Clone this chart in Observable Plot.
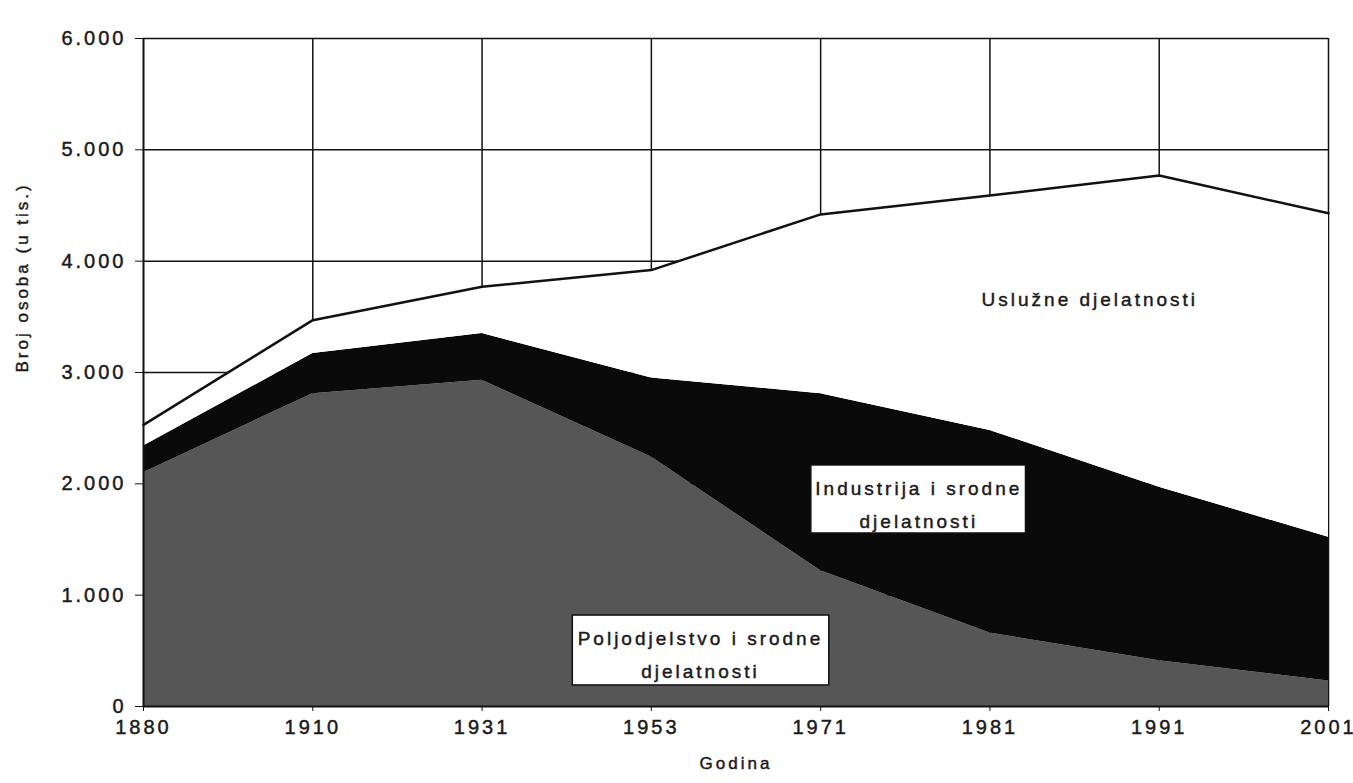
<!DOCTYPE html>
<html>
<head>
<meta charset="utf-8">
<script src="https://cdn.jsdelivr.net/npm/d3@7"></script>
<script src="https://cdn.jsdelivr.net/npm/@observablehq/plot@0.6"></script>
<style>
  html, body { margin: 0; padding: 0; background: #ffffff; }
  #chart { width: 1353px; height: 783px; overflow: hidden; }
  #chart svg text { stroke: #1a1a1a; stroke-width: 0.45px; }
  #chart g[aria-label="y-title"] text { letter-spacing: 2.3px; }
  #chart g[aria-label="x-title"] text { letter-spacing: 1px; }
  #chart g[aria-label="annotations"] text { letter-spacing: 3px; }
</style>
</head>
<body>
<div id="chart"></div>
<script>
// Category labels (equally spaced census years)
const years = ["1880", "1910", "1931", "1953", "1971", "1981", "1991", "2001"];

// Series values (thousands of persons)
const agriculture = [2100, 2810, 2930, 2240, 1220, 660, 410, 230];
const industry    = [240, 360, 420, 710, 1590, 1820, 1560, 1290];
const services    = [190, 300, 420, 970, 1610, 2110, 2800, 2910];

const sectors = ["Poljodjelstvo i srodne djelatnosti", "Industrija i srodne djelatnosti", "Uslužne djelatnosti"];
const sectorColors = ["#565656", "#0a0a0a", "#ffffff"];

const yTicks = [0, 1000, 2000, 3000, 4000, 5000, 6000];
const xTitle = "Godina";
const yTitle = "Broj osoba (u tis.)";

// In-chart annotations (data coordinates: x = year index, y = persons)
const annotations = [
  {text: "Uslužne djelatnosti", x: 5.59, y: 3690},
  {text: "Industrija i srodne\ndjelatnosti", x: 4.58, y: 1850},
  {text: "Poljodjelstvo i srodne\ndjelatnosti", x: 3.29, y: 500}
];
const boxes = [
  {x1: 3.945, x2: 5.213, y1: 1554, y2: 2165},
  {x1: 2.536, x2: 4.051, y1: 189, y2: 817}
];

// Build tables for the library
const seriesBySector = [agriculture, industry, services];
const long = [];
sectors.forEach((s, k) => {
  years.forEach((yr, i) => long.push({i, sector: s, value: seriesBySector[k][i]}));
});
const totals = years.map((yr, i) => ({i, total: agriculture[i] + industry[i] + services[i]}));

const fmt = d => d === 0 ? "0" : `${d / 1000}.000`;

const chart = Plot.plot({
  width: 1353,
  height: 783,
  marginLeft: 143,
  marginRight: 25,
  marginTop: 38,
  marginBottom: 77,
  x: {domain: [0, years.length - 1]},
  y: {domain: [0, 6000]},
  color: {domain: sectors, range: sectorColors},
  style: {
    fontFamily: "'Liberation Sans', Arial, sans-serif",
    fontSize: "20px",
    letterSpacing: "3px",
    color: "#1a1a1a",
    background: "#ffffff"
  },
  marks: [
    Plot.gridY(yTicks.filter(d => d > 0), {stroke: "#111", strokeOpacity: 1, strokeWidth: 1.5}),
    Plot.gridX(d3.range(1, years.length), {stroke: "#111", strokeOpacity: 1, strokeWidth: 1.5}),
    Plot.areaY(long, {x: "i", y: "value", fill: "sector", order: sectors}),
    Plot.lineY(totals, {x: "i", y: "total", stroke: "#111", strokeWidth: 2.5}),
    Plot.ruleX([0], {y1: 0, y2: 6000, stroke: "#111", strokeWidth: 2}),
    Plot.ruleY([0], {stroke: "#111", strokeWidth: 2}),
    Plot.axisY({ticks: yTicks, tickFormat: fmt, tickSize: 8, tickPadding: 9, label: null, stroke: "#111"}),
    Plot.axisX({ticks: d3.range(years.length), tickFormat: i => years[i], tickSize: 5, tickPadding: 8, label: null, stroke: "#111"}),
    Plot.rect(boxes, {x1: "x1", x2: "x2", y1: "y1", y2: "y2", fill: "#ffffff", stroke: "#111", strokeWidth: 1.5}),
    Plot.text(annotations, {x: "x", y: "y", text: "text", fontSize: 19, lineHeight: 1.75, fill: "#1a1a1a", ariaLabel: "annotations"}),
    Plot.text([xTitle], {text: d => d, frameAnchor: "bottom", dy: 62, fontSize: 17, fill: "#1a1a1a", ariaLabel: "x-title"}),
    Plot.text([yTitle], {text: d => d, frameAnchor: "left", dx: -121, rotate: -90, fontSize: 17, fill: "#1a1a1a", ariaLabel: "y-title"})
  ]
});
document.getElementById("chart").appendChild(chart);
</script>
</body>
</html>
